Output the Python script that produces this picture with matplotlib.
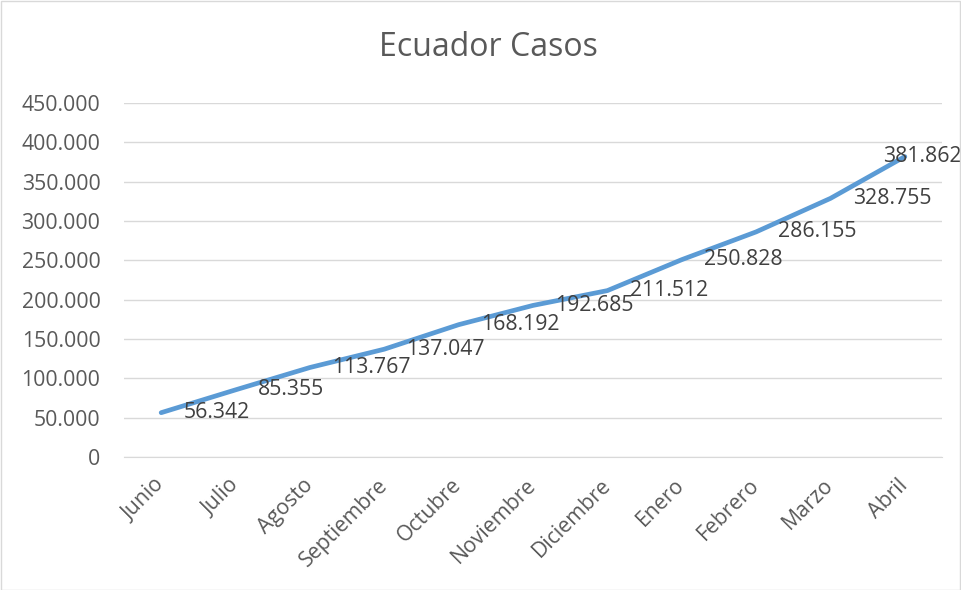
import matplotlib
matplotlib.use("Agg")
import matplotlib.pyplot as plt
from matplotlib.ticker import FuncFormatter, MultipleLocator

months = ["Junio", "Julio", "Agosto", "Septiembre", "Octubre", "Noviembre",
          "Diciembre", "Enero", "Febrero", "Marzo", "Abril"]
casos = [56342, 85355, 113767, 137047, 168192, 192685, 211512, 250828,
         286155, 328755, 381862]

plt.rcParams['font.family'] = ['Open Sans', 'DejaVu Sans']
W, H = 961, 590
fig = plt.figure(figsize=(W / 100, H / 100), dpi=100)
ax = fig.add_axes([124 / W, 1 - 457 / H, (942 - 124) / W, (457 - 103) / H])

x = list(range(len(months)))
ax.plot(x, casos, color="#5B9BD5", linewidth=3.4, solid_capstyle="round",
        solid_joinstyle="round", zorder=3)

def fmt(v):
    return f"{int(round(v)):,}".replace(",", ".")

for i, (xi, v) in enumerate(zip(x, casos)):
    off = 16 if i < len(casos) - 1 else -15.5
    ax.annotate(fmt(v), (xi, v), xytext=(off, 0), textcoords="offset points",
                ha="left", va="center", fontsize=15.3, color="#404040",
                zorder=4, annotation_clip=False)

ax.set_xlim(-0.5, len(months) - 0.5)
ax.set_ylim(0, 450000)
ax.yaxis.set_major_locator(MultipleLocator(50000))
ax.yaxis.set_major_formatter(FuncFormatter(lambda v, p: fmt(v)))
ax.grid(axis="y", color="#D9D9D9", linewidth=1.0)
ax.set_axisbelow(True)
for s in ["top", "right", "left"]:
    ax.spines[s].set_visible(False)
ax.spines["bottom"].set_color("#D9D9D9")
ax.tick_params(axis="both", length=0, labelsize=15.3, labelcolor="#595959")
ax.tick_params(axis="y", pad=17)
ax.set_xticks(x)
ax.set_xticklabels(months, rotation=45, ha="right", va="center",
                   rotation_mode="anchor")
ax.tick_params(axis="x", pad=18)

fig.text(488 / W, 1 - 48 / H, "Ecuador Casos", ha="center",
         va="center", fontsize=23, color="#595959")

border = plt.Rectangle((0.5 / W, 0.5 / H), 1 - 1.5 / W, 1 - 1.5 / H,
                       transform=fig.transFigure, fill=False,
                       edgecolor="#D9D9D9", linewidth=1)
fig.add_artist(border)

fig.savefig("out.png", dpi=100)
